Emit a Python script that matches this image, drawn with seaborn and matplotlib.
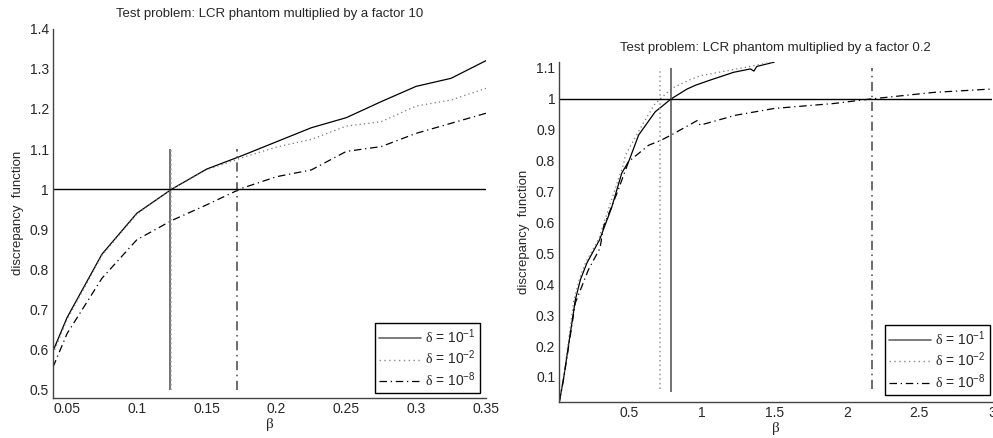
"""Discrepancy function vs beta for the LCR phantom test problem (two scalings)."""

import matplotlib

matplotlib.use("Agg")
import matplotlib.pyplot as plt
import pandas as pd
import seaborn as sns
from matplotlib.lines import Line2D

# ---- left panel: phantom x 10 ----
beta_left = [0.04, 0.05, 0.075, 0.1, 0.125, 0.15, 0.175, 0.2, 0.225, 0.25, 0.275, 0.3, 0.325, 0.35]
disc_left_d1 = [0.597, 0.68, 0.838, 0.94, 1.0, 1.05, 1.083, 1.118, 1.153, 1.178, 1.218, 1.256, 1.276, 1.32]
disc_left_d2 = [0.59, 0.675, 0.835, 0.938, 1.0, 1.048, 1.078, 1.105, 1.124, 1.157, 1.168, 1.207, 1.222, 1.251]
disc_left_d8 = [0.557, 0.64, 0.778, 0.874, 0.922, 0.961, 1.002, 1.031, 1.048, 1.094, 1.106, 1.139, 1.164, 1.189]
vline_left_x = [0.1235, 0.1245, 0.172]
vline_left_lo = [0.5, 0.5, 0.5]
vline_left_hi = [1.1, 1.1, 1.1]

# ---- right panel: phantom x 0.2 ----
beta_right_d1 = [0.02, 0.05, 0.13, 0.165, 0.21, 0.297, 0.38, 0.45, 0.5, 0.566, 0.68, 0.79, 0.9, 0.957,
                 1.06, 1.22, 1.336, 1.36, 1.38, 1.5]
disc_right_d1 = [0.02, 0.098, 0.35, 0.415, 0.469, 0.544, 0.648, 0.76, 0.80, 0.883, 0.958, 1.0, 1.032, 1.044,
                 1.061, 1.086, 1.097, 1.09, 1.105, 1.119]
beta_right_d2 = [0.02, 0.05, 0.12, 0.16, 0.2, 0.29, 0.37, 0.463, 0.475, 0.59, 0.68, 0.716, 0.79, 0.91,
                 0.99, 1.233, 1.5]
disc_right_d2 = [0.02, 0.1, 0.35, 0.42, 0.47, 0.545, 0.66, 0.79, 0.818, 0.915, 0.985, 1.0, 1.033, 1.06,
                 1.075, 1.096, 1.12]
beta_right_d8 = [0.02, 0.05, 0.13, 0.22, 0.3, 0.325, 0.417, 0.497, 0.635, 0.716, 0.79, 0.97, 0.99, 1.233,
                 1.5, 1.91, 2.17, 2.6, 3.0]
disc_right_d8 = [0.02, 0.095, 0.34, 0.447, 0.517, 0.587, 0.695, 0.797, 0.85, 0.865, 0.883, 0.93, 0.915, 0.947,
                 0.969, 0.985, 1.0, 1.021, 1.032]
vline_right_x = [0.79, 0.716, 2.17]
vline_right_lo = [0.05, 0.06, 0.06]
vline_right_hi = [1.1, 1.1, 1.1]

labels = [r"$\mathrm{\delta}$ = 10$^{\mathsf{-1}}$",
          r"$\mathrm{\delta}$ = 10$^{\mathsf{-2}}$",
          r"$\mathrm{\delta}$ = 10$^{\mathsf{-8}}$"]

STYLES = [
    dict(ls="-", color="black", lw=0.9),
    dict(ls=(0, (1, 2.5)), color="#777777", lw=0.9),
    dict(ls=(0, (6, 3, 1, 3)), color="black", lw=0.9),
]
VSTYLES = [
    dict(ls="-", color="#666666", lw=1.3),
    dict(ls=(0, (1, 2)), color="#999999", lw=1.1),
    dict(ls=(0, (6, 3, 1, 3)), color="#444444", lw=1.1),
]
LEG_STYLES = [
    dict(ls="-", color="#666666", lw=1.2),
    dict(ls=(0, (1, 2.5)), color="#888888", lw=1.0),
    dict(ls=(0, (6, 3, 1, 3)), color="black", lw=0.9),
]


def draw_panel(ax, series, vx, vlo, vhi, xlim, ylim, xticks, yticks, title, legend_anchor):
    for (bx, by), st in zip(series, STYLES):
        df = pd.DataFrame({"beta": bx, "disc": by})
        sns.lineplot(data=df, x="beta", y="disc", ax=ax, sort=False, estimator=None,
                     color=st["color"], lw=st["lw"], linestyle=st["ls"])
    for x, lo, hi, st in zip(vx, vlo, vhi, VSTYLES):
        ax.vlines(x, lo, hi, colors=st["color"], linestyles=[st["ls"]], lw=st["lw"])
    ax.axhline(1.0, color="black", lw=1.0)

    ax.set_xlim(*xlim)
    ax.set_ylim(*ylim)
    ax.set_xticks(xticks)
    ax.set_xticklabels([f"{t:g}" for t in xticks])
    ax.set_yticks(yticks)
    ax.set_yticklabels([f"{t:g}" for t in yticks])
    ax.tick_params(direction="in", length=3, width=0.8, labelsize=10, pad=3, color="#333333")
    for side in ("top", "right"):
        ax.spines[side].set_visible(False)
    for side in ("left", "bottom"):
        ax.spines[side].set_color("#444444")
        ax.spines[side].set_linewidth(1.0)

    ax.set_xlabel(r"$\mathrm{\beta}$", fontsize=11, labelpad=0)
    ax.set_ylabel("discrepancy  function", fontsize=9.5, labelpad=4)
    ax.set_title(title, fontsize=9.5, pad=8)

    handles = [Line2D([], [], **st) for st in LEG_STYLES]
    leg = ax.legend(handles, labels, loc="lower right", bbox_to_anchor=legend_anchor,
                    fontsize=10, handlelength=3.0, handletextpad=0.3, labelspacing=0.2,
                    borderpad=0.3, fancybox=False, framealpha=1, borderaxespad=0)
    leg.get_frame().set_edgecolor("black")
    leg.get_frame().set_linewidth(1.0)


def main() -> None:
    sns.set_theme(style="white")
    plt.rcParams["font.family"] = ["Liberation Sans", "DejaVu Sans"]
    plt.rcParams["mathtext.fontset"] = "custom"
    plt.rcParams["mathtext.rm"] = "Liberation Serif"
    plt.rcParams["mathtext.sf"] = "Liberation Sans"

    fig = plt.figure(figsize=(9.93, 4.38), dpi=100)
    ax1 = fig.add_axes([0.0534, 0.0913, 0.436, 0.8436])
    ax2 = fig.add_axes([0.5633, 0.0829, 0.4357, 0.776])

    draw_panel(ax1,
               [(beta_left, disc_left_d1), (beta_left, disc_left_d2), (beta_left, disc_left_d8)],
               vline_left_x, vline_left_lo, vline_left_hi,
               (0.04, 0.35), (0.48, 1.4),
               [0.05, 0.1, 0.15, 0.2, 0.25, 0.3, 0.35],
               [0.5, 0.6, 0.7, 0.8, 0.9, 1.0, 1.1, 1.2, 1.3, 1.4],
               "Test problem: LCR phantom multiplied by a factor 10", (0.986, 0.0135))

    draw_panel(ax2,
               [(beta_right_d1, disc_right_d1), (beta_right_d2, disc_right_d2),
                (beta_right_d8, disc_right_d8)],
               vline_right_x, vline_right_lo, vline_right_hi,
               (0.02, 3.0), (0.02, 1.12),
               [0.5, 1.0, 1.5, 2.0, 2.5, 3.0],
               [0.1, 0.2, 0.3, 0.4, 0.5, 0.6, 0.7, 0.8, 0.9, 1.0, 1.1],
               "Test problem: LCR phantom multiplied by a factor 0.2", (0.995, 0.02))

    fig.savefig("out.png", dpi=100)
    plt.close(fig)


if __name__ == "__main__":
    main()
